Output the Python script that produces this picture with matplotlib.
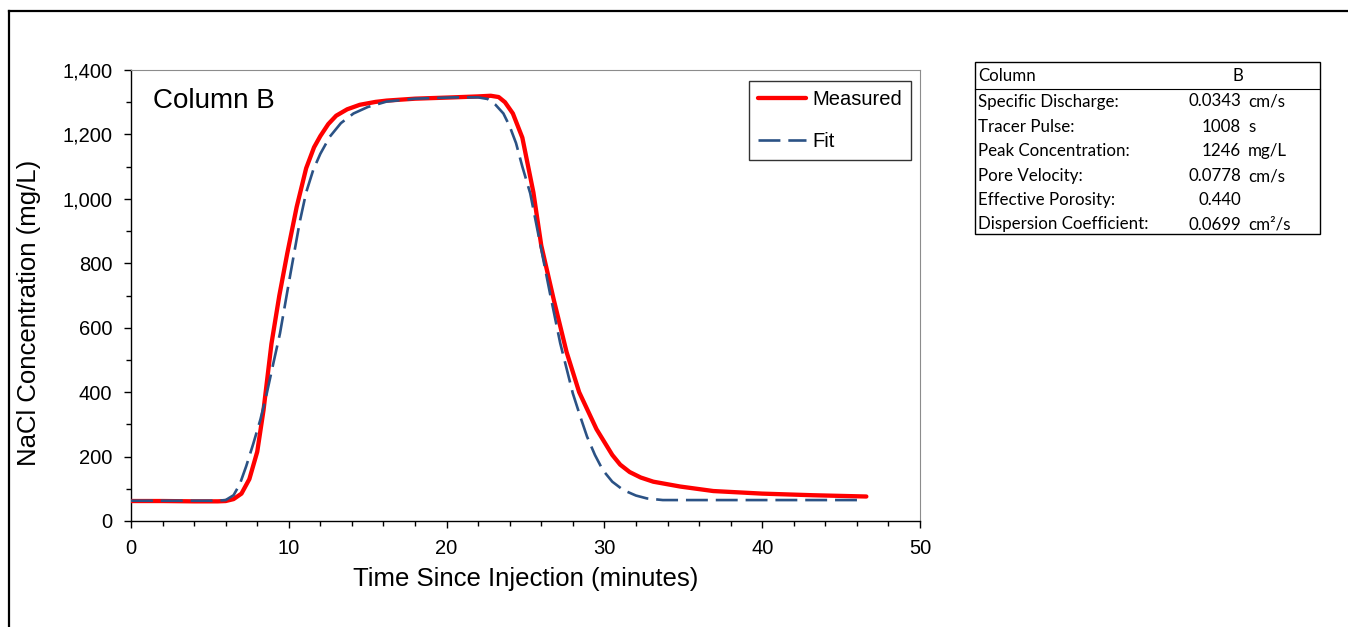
"""Courbe de percée NaCl — colonne B, mesure vs ajustement."""

import matplotlib
matplotlib.use("Agg")
import matplotlib.pyplot as plt
from matplotlib.lines import Line2D
from matplotlib.patches import Rectangle
from matplotlib.ticker import FuncFormatter, MultipleLocator

# ---------------------------------------------------------------------------
# Données
# ---------------------------------------------------------------------------
t_mesure = [0, 2, 4, 5.5, 6.0, 6.5, 7.0, 7.5, 8.0, 8.4, 8.9, 9.4, 9.9, 10.5,
            11.1, 11.6, 12.0, 12.5, 13.0, 13.7, 14.5, 15.5, 16.2, 18.0, 20.4,
            22.0, 22.8, 23.3, 23.7, 24.2, 24.8, 25.5, 26.0, 26.8, 27.6, 28.4,
            29.5, 30.5, 31.0, 31.6, 32.3, 33.1, 34.8, 36.9, 40.0, 43.2, 46.6]
c_mesure = [62, 62, 61, 61, 62, 68, 85, 130, 215, 345, 550, 700, 830, 975,
            1095, 1160, 1195, 1232, 1258, 1278, 1292, 1301, 1305, 1311, 1315,
            1318, 1320, 1316, 1300, 1265, 1190, 1020, 855, 685, 525, 400,
            285, 205, 175, 152, 135, 122, 107, 93, 85, 80, 76]

t_fit = [0, 5.5, 6.0, 6.5, 6.9, 7.3, 7.75, 8.2, 8.6, 9.0, 9.44, 10.07, 10.7,
         11.1, 11.55, 12.0, 12.6, 13.3, 14.1, 15.0, 16.2, 18.0, 20.4, 22.0,
         22.6, 23.1, 23.6, 24.0, 24.4, 24.8, 25.3, 25.8, 26.55, 27.2, 28.0,
         28.5, 28.9, 29.4, 29.9, 30.5, 31.2, 32.0, 32.7, 33.7, 46.2]
c_fit = [63, 63, 65, 80, 115, 170, 240, 315, 395, 485, 582, 758, 930,
         1020, 1090, 1140, 1193, 1235, 1265, 1285, 1302, 1311, 1315, 1315,
         1310, 1292, 1265, 1225, 1173, 1100, 1017, 893, 707, 552, 396,
         320, 262, 205, 158, 122, 96, 79, 70, 65, 65]

lignes_tableau = [
    ("Specific Discharge:", "0.0343", "cm/s"),
    ("Tracer Pulse:", "1008", "s"),
    ("Peak Concentration:", "1246", "mg/L"),
    ("Pore Velocity:", "0.0778", "cm/s"),
    ("Effective Porosity:", "0.440", ""),
    ("Dispersion Coefficient:", "0.0699", "cm²/s"),
]

W, H = 1348, 627
ROUGE = "#FF0000"
BLEU = "#2B5285"

plt.rcParams["font.family"] = ["Liberation Sans", "DejaVu Sans"]

fig = plt.figure(figsize=(W / 100, H / 100), dpi=100)


def fx(px):
    return px / W


def fy(py):
    return 1 - py / H


# cadre de la zone graphique (coin haut-gauche visible)
fig.add_artist(Line2D([fx(8.5), 1], [fy(11), fy(11)], color="black", lw=1.6))
fig.add_artist(Line2D([fx(8.5), fx(8.5)], [0, fy(11)], color="black", lw=1.6))

ax = fig.add_axes([fx(131), fy(521), fx(920 - 131), (521 - 70) / H])
ax.plot(t_mesure, c_mesure, color=ROUGE, lw=3.1, label="Measured",
        solid_capstyle="round", zorder=3)
ax.plot(t_fit, c_fit, color=BLEU, lw=1.9, dashes=(8.3, 3), label="Fit", zorder=4)

ax.set_xlim(0, 50)
ax.set_ylim(0, 1400)
ax.xaxis.set_major_locator(MultipleLocator(10))
ax.xaxis.set_minor_locator(MultipleLocator(2))
ax.yaxis.set_major_locator(MultipleLocator(200))
ax.yaxis.set_minor_locator(MultipleLocator(100))
ax.yaxis.set_major_formatter(FuncFormatter(lambda v, _: f"{v:,.0f}"))

for cote in ("top", "right"):
    ax.spines[cote].set_color("#8C8C8C")
    ax.spines[cote].set_linewidth(0.8)
for cote in ("left", "bottom"):
    ax.spines[cote].set_color("black")
    ax.spines[cote].set_linewidth(1.0)

ax.tick_params(which="major", direction="out", length=5, width=1.0,
               labelsize=14.5, pad=8)
ax.tick_params(which="minor", direction="out", length=3.5, width=1.0)
ax.tick_params(axis="y", which="major", pad=8.5)

ax.set_xlabel("Time Since Injection (minutes)", fontsize=18.5)
ax.set_ylabel("NaCl Concentration (mg/L)", fontsize=18.5)
ax.xaxis.set_label_coords(0.5, -0.101)
ax.yaxis.set_label_coords(-0.114, 0.461)

ax.text(0.028, 0.932, "Column B", transform=ax.transAxes, fontsize=20,
        va="center", ha="left")

leg = ax.legend(loc="upper right", bbox_to_anchor=(0.9886, 0.9757),
                fontsize=14.5, frameon=True, fancybox=False, handlelength=2.4,
                handletextpad=0.3, labelspacing=1.15, borderpad=0.45,
                borderaxespad=0)
leg.get_frame().set_edgecolor("black")
leg.get_frame().set_linewidth(1.0)

# ---------------------------------------------------------------------------
# Tableau des paramètres
# ---------------------------------------------------------------------------
x0, x1, y0, y1 = 975, 1320, 62.5, 234
fig.add_artist(Rectangle((fx(x0), fy(y1)), fx(x1 - x0), (y1 - y0) / H,
                         fill=False, edgecolor="black", lw=1.0))
fig.add_artist(Line2D([fx(x0), fx(x1)], [fy(89), fy(89)], color="black", lw=0.8))

police_tab = dict(family=["Lato", "DejaVu Sans"], fontsize=12.2, va="center")
fig.text(fx(978), fy(76), "Column", ha="left", **police_tab)
fig.text(fx(1238), fy(76), "B", ha="center", **police_tab)
ys_lignes = [101.5, 126.5, 151, 176, 200, 224.5]
for (nom, valeur, unite), yl in zip(lignes_tableau, ys_lignes):
    fig.text(fx(978), fy(yl), nom, ha="left", **police_tab)
    fig.text(fx(1241), fy(yl), valeur, ha="right", **police_tab)
    if unite:
        fig.text(fx(1248), fy(yl), unite, ha="left", **police_tab)

fig.savefig("out.png", dpi=100)
